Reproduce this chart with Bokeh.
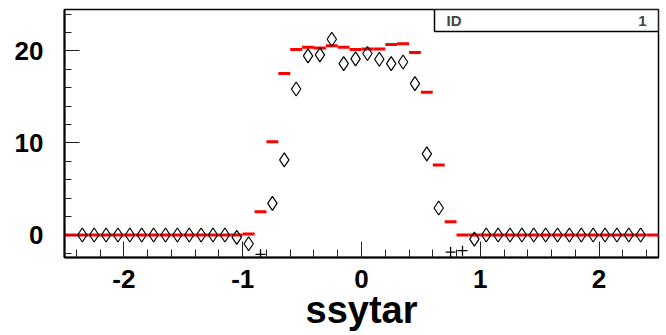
import numpy as np
from bokeh.plotting import figure
from bokeh.models import (Range1d, SingleIntervalTicker, Label, BoxAnnotation,
                          ColumnDataSource)
from bokeh.embed import file_html
from bokeh.resources import INLINE

# ---------------- data ----------------
# red histogram: 50 bins of width 0.1 from -2.5 to 2.5
bin_lo = -2.5
bin_w = 0.1
red_values = ([0.0] * 15 +
              [0.1, 2.54, 10.13, 17.54, 20.15, 20.4, 20.33, 20.55, 20.4,
               20.15, 20.22, 20.22, 20.7, 20.77, 19.83, 15.5, 7.62, 1.45] +
              [0.0] * 17)

# open diamonds (bin centres)
diamond_x = ([-2.35, -2.25, -2.15, -2.05, -1.95, -1.85, -1.75, -1.65, -1.55,
              -1.45, -1.35, -1.25, -1.15, -1.05, -0.95,
              -0.75, -0.65, -0.55, -0.45, -0.35, -0.25, -0.15, -0.05,
              0.05, 0.15, 0.25, 0.35, 0.45, 0.55, 0.65,
              0.95, 1.05, 1.15, 1.25, 1.35, 1.45, 1.55, 1.65, 1.75, 1.85,
              1.95, 2.05, 2.15, 2.25, 2.35])
diamond_y = ([0.0] * 13 + [-0.25, -0.95,
              3.44, 8.17, 15.86, 19.46, 19.57, 21.27, 18.62, 19.13,
              19.72, 19.1, 18.62, 18.8, 16.45, 8.82, 2.94,
              -0.45] + [0.0] * 14)

# small crosses near the bottom
cross_x = [-0.85, 0.75, 0.85]
cross_y = [-2.1, -1.85, -1.7]

x_tick_values = [-2, -1, 0, 1, 2]
x_tick_labels = ["-2", "-1", "0", "1", "2"]
y_tick_values = [0, 10, 20]
y_tick_labels = ["0", "10", "20"]
x_title = "ssytar"
stat_name = "ID"
stat_value = "1"

# ---------------- figure ----------------
FONT = "Liberation Sans"
p = figure(width=666, height=335, output_backend="svg", toolbar_location=None,
           x_range=Range1d(-2.5, 2.5), y_range=Range1d(-2.44, 24.5),
           min_border_left=64, min_border_right=8, min_border_top=9,
           min_border_bottom=78)
p.background_fill_color = "white"
p.border_fill_color = "white"
p.outline_line_color = "black"
p.outline_line_width = 1.5
p.xgrid.visible = False
p.ygrid.visible = False

p.xaxis.ticker = SingleIntervalTicker(interval=1, num_minor_ticks=5)
p.yaxis.ticker = SingleIntervalTicker(interval=10, num_minor_ticks=5)
p.xaxis.major_label_overrides = dict(zip(x_tick_values, x_tick_labels))
p.yaxis.major_label_overrides = dict(zip(y_tick_values, y_tick_labels))
for ax in (p.xaxis[0], p.yaxis[0]):
    ax.axis_line_color = "black"
    ax.axis_line_width = 2
    ax.major_tick_out = 0
    ax.minor_tick_out = 0
    ax.major_tick_line_color = "#222222"
    ax.minor_tick_line_color = "#222222"
    ax.major_label_text_font = FONT
    ax.major_label_text_font_style = "bold"
    ax.major_label_text_font_size = "26px"
    ax.major_label_text_color = "black"
p.xaxis.major_tick_in = 16
p.xaxis.minor_tick_in = 8
p.yaxis.major_tick_in = 15
p.yaxis.minor_tick_in = 7
p.xaxis.major_label_standoff = 12
p.yaxis.major_label_standoff = 21

p.xaxis.axis_label = x_title
p.xaxis.axis_label_text_font = FONT
p.xaxis.axis_label_text_font_style = "bold"
p.xaxis.axis_label_text_font_size = "38px"
p.xaxis.axis_label_text_color = "black"
p.xaxis.axis_label_standoff = -2

# red histogram
edges_left = [bin_lo + i * bin_w for i in range(len(red_values))]
edges_right = [bin_lo + (i + 1) * bin_w for i in range(len(red_values))]
red_src = ColumnDataSource(dict(x0=edges_left, x1=edges_right, y=red_values))
p.segment(x0="x0", x1="x1", y0="y", y1="y", source=red_src,
          line_color="#ff0000", line_width=3, line_cap="butt")

# diamonds
p.scatter(diamond_x, diamond_y, marker="diamond", size=14,
          fill_color=None, line_color="black", line_width=1.2)
# crosses
p.scatter(cross_x, cross_y, marker="cross", size=10,
          line_color="black", line_width=1.3)

# stats box at top right
box = BoxAnnotation(left=370, left_units="screen",
                    bottom=226, bottom_units="screen",
                    fill_color="white", fill_alpha=1.0,
                    line_color="black", line_width=1.5, line_alpha=1.0,
                    level="overlay")
p.add_layout(box)
p.add_layout(Label(x=382, y=237, x_units="screen", y_units="screen",
                   text=stat_name, text_font=FONT, text_font_style="bold",
                   text_font_size="15px", text_baseline="middle",
                   text_align="left", level="overlay"))
p.add_layout(Label(x=582, y=237, x_units="screen", y_units="screen",
                   text=stat_value, text_font=FONT, text_font_style="bold",
                   text_font_size="15px", text_baseline="middle",
                   text_align="right", level="overlay"))

open("out.html", "w").write(file_html(p, INLINE))
